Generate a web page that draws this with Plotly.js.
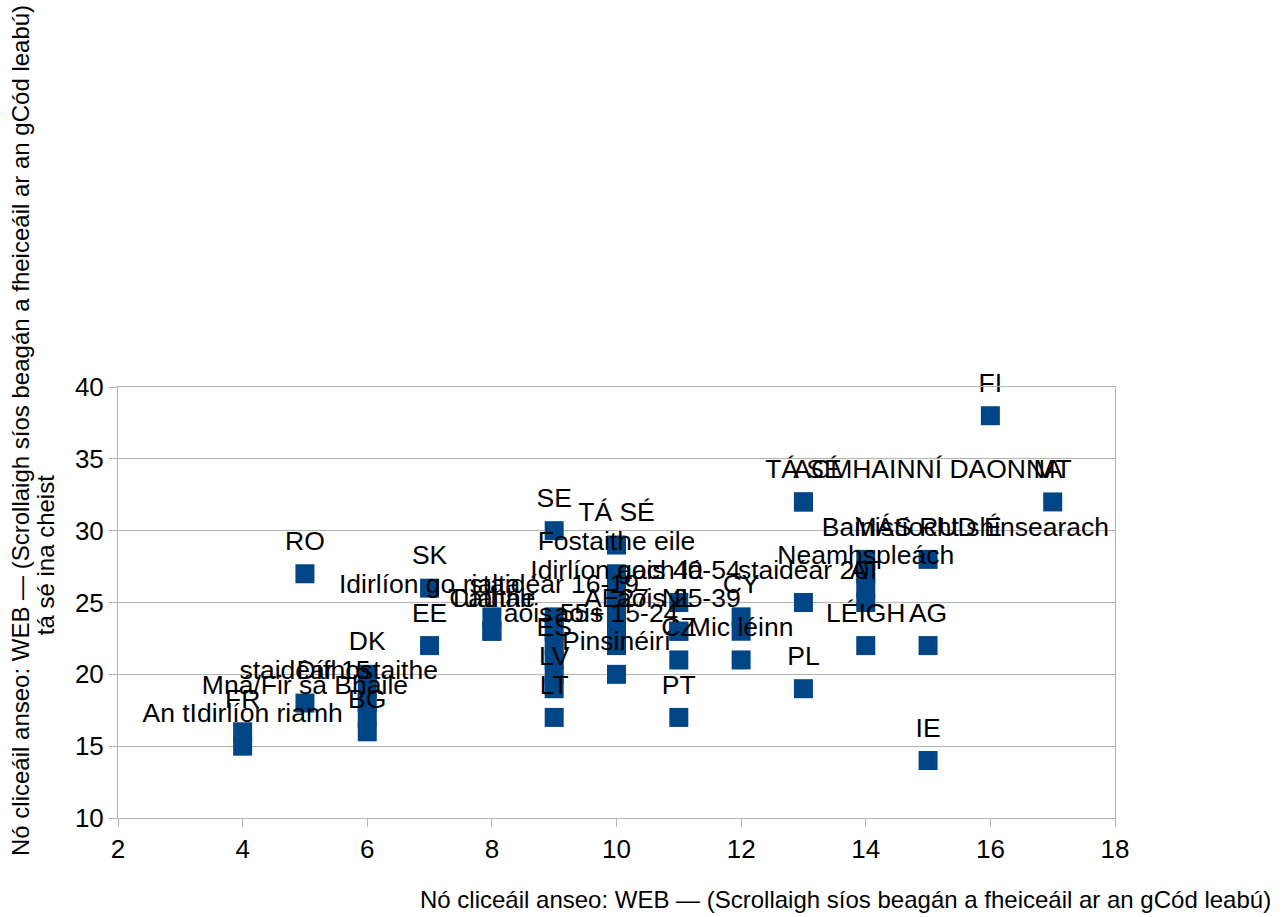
<!DOCTYPE html>
<html>
<head>
<meta charset="utf-8">
<script src="https://cdn.plot.ly/plotly-3.0.1.min.js"></script>
<style>html,body{margin:0;padding:0;background:#fff;}#chart{width:1285px;height:917px;}</style>
</head>
<body>
<div id="chart"></div>
<script>
// Points with a marker
const xValues = [4, 4, 5, 5, 6, 6, 6, 6, 6, 7, 7, 8, 8, 8,
  9, 9, 9, 9, 9, 9, 9, 9,
  10, 10, 10, 10, 10, 10, 10, 10,
  11, 11, 11, 11, 11,
  12, 12, 12,
  13, 13, 13, 13,
  14, 14, 14, 14, 14,
  15, 15, 15,
  16, 17];
const yValues = [16, 15, 27, 18, 20, 19, 18, 17, 16, 26, 22, 24, 23, 23,
  30, 24, 23, 22, 21, 20, 19, 17,
  29, 27, 26, 25, 24, 23, 22, 20,
  25, 23, 23, 21, 17,
  24, 23, 21,
  32, 32, 25, 19,
  28, 27, 26, 25, 22,
  28, 22, 14,
  38, 32];
const pointLabels = ["FR", "An tIdirlíon riamh", "RO", "staidéar 15", "DK", "", "Dífhostaithe", "", "BG", "SK", "EE", "", "Cathair", "Tuaithe",
  "SE", "staidéar 16-19", "", "aois 55+", "ES", "", "LV", "LT",
  "TÁ SÉ", "Fostaithe eile", "", "Idirlíon gach lá", "", "AE27", "aois 15-24", "Pinsinéirí",
  "aois 40-54", "NL", "aois 25-39", "CZ", "PT",
  "CY", "", "Mic léinn",
  "TÁ SÉ", "", "staidéar 20", "PL",
  "", "", "Neamhspleách", "AT", "LÉIGH",
  "MÁS RUD É", "AG", "IE",
  "FI", "MT"];

// Labels drawn without a visible marker
const xLabelOnly = [5, 7, 15, 15.6];
const yLabelOnly = [17, 24, 32, 28];
const labelOnly = ["Mná/Fir sa Bhaile", "Idirlíon go rialta", "ACMHAINNÍ DAONNA", "Bainistíocht shinsearach"];

const xTicks = [2, 4, 6, 8, 10, 12, 14, 16, 18];
const yTicks = [10, 15, 20, 25, 30, 35, 40];

const axisTitle = "Nó cliceáil anseo: WEB — (Scrollaigh síos beagán a fheiceáil ar an gCód leabú)";
const yTitleSecond = "tá sé ina cheist";

const FONT = "Liberation Sans, Arial, sans-serif";
const BLUE = "#004586";
const GRID = "#b3b3b3";

const traces = [
  {
    type: "scatter",
    mode: "markers",
    x: xValues,
    y: yValues,
    marker: {symbol: "square", size: 19, color: BLUE, line: {width: 0}},
    hoverinfo: "x+y",
    showlegend: false
  },
  {
    type: "scatter",
    mode: "markers+text",
    x: xValues.concat(xLabelOnly),
    y: yValues.concat(yLabelOnly),
    text: pointLabels.concat(labelOnly),
    textposition: "top center",
    textfont: {family: FONT, size: 26.5, color: "#000"},
    marker: {symbol: "square", size: 26, color: "rgba(0,0,0,0)"},
    hoverinfo: "skip",
    cliponaxis: false,
    showlegend: false
  }
];

const layout = {
  width: 1285,
  height: 917,
  margin: {l: 118, r: 170, t: 387, b: 99, pad: 0},
  paper_bgcolor: "#fff",
  plot_bgcolor: "#fff",
  font: {family: FONT, size: 26, color: "#000"},
  showlegend: false,
  xaxis: {
    range: [2, 18],
    tickvals: xTicks,
    ticktext: xTicks.map(String),
    showgrid: false,
    zeroline: false,
    showline: true,
    linecolor: GRID,
    linewidth: 1,
    mirror: true,
    ticks: "outside",
    ticklen: 8,
    tickcolor: GRID,
    tickfont: {family: FONT, size: 26, color: "#000"}
  },
  yaxis: {
    range: [10, 40],
    tickvals: yTicks,
    ticktext: yTicks.map(String),
    showgrid: true,
    gridcolor: GRID,
    gridwidth: 1,
    zeroline: false,
    showline: true,
    linecolor: GRID,
    linewidth: 1,
    mirror: true,
    ticks: "outside",
    ticklen: 8,
    tickcolor: GRID,
    tickfont: {family: FONT, size: 26, color: "#000"}
  },
  annotations: [
    {
      text: axisTitle,
      xref: "paper", yref: "paper",
      x: 0.7292, y: -0.188,
      xanchor: "center", yanchor: "middle",
      showarrow: false,
      font: {family: FONT, size: 24, color: "#000"}
    },
    {
      text: axisTitle,
      xref: "paper", yref: "paper",
      x: -0.0983, y: 0.9002,
      xanchor: "center", yanchor: "middle",
      textangle: -90,
      showarrow: false,
      font: {family: FONT, size: 24, color: "#000"}
    },
    {
      text: yTitleSecond,
      xref: "paper", yref: "paper",
      x: -0.073, y: 0.6102,
      xanchor: "center", yanchor: "middle",
      textangle: -90,
      showarrow: false,
      font: {family: FONT, size: 24, color: "#000"}
    }
  ]
};

Plotly.newPlot("chart", traces, layout, {staticPlot: true, displayModeBar: false});
</script>
</body>
</html>
